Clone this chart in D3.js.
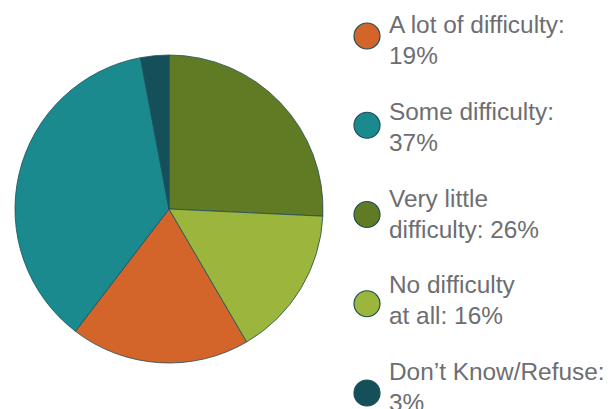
<!DOCTYPE html>
<html><head><meta charset="utf-8">
<script src="https://cdn.jsdelivr.net/npm/d3@7/dist/d3.min.js"></script>
<style>html,body{margin:0;padding:0;background:#fff;}svg{display:block;}</style>
</head><body>
<svg id="chart" width="611" height="409"></svg>
<script>
// Data (legend order)
const categories = ["A lot of difficulty", "Some difficulty", "Very little difficulty", "No difficulty at all", "Don\u2019t Know/Refuse"];
const values = [19, 37, 26, 16, 3];
const labelLine1 = ["A lot of difficulty:", "Some difficulty:", "Very little", "No difficulty", "Don\u2019t Know/Refuse:"];
const labelLine2 = ["19%", "37%", "difficulty: 26%", "at all: 16%", "3%"];
const colors = ["#d4652a", "#1a8a8e", "#617a24", "#9cb53c", "#15505a"];
// Clockwise order of slices starting at 12 o'clock
const pieOrder = ["Very little difficulty", "No difficulty at all", "A lot of difficulty", "Some difficulty", "Don\u2019t Know/Refuse"];

const data = categories.map((c, i) => ({cat: c, value: values[i], color: colors[i], l1: labelLine1[i], l2: labelLine2[i]}));

const svg = d3.select("#chart");
const cx = 169, cy = 209, r = 154;

const pie = d3.pie().value(d => d.value)
  .sort((a, b) => pieOrder.indexOf(a.cat) - pieOrder.indexOf(b.cat));
const arc = d3.arc().innerRadius(0).outerRadius(r);

svg.append("g").attr("transform", `translate(${cx},${cy})`)
  .selectAll("path").data(pie(data)).join("path")
  .attr("d", arc)
  .attr("fill", d => d.data.color)
  .attr("stroke", "#1d4f5a")
  .attr("stroke-width", 0.8);

// Legend
const circleY = d3.scaleLinear().domain([0, 4]).range([36, 393]);
const textY = d3.scaleLinear().domain([0, 4]).range([33, 380]);
const lg = svg.append("g");
data.forEach((d, i) => {
  lg.append("circle").attr("cx", 367).attr("cy", circleY(i)).attr("r", 13)
    .attr("fill", d.color).attr("stroke", "#1d4f5a").attr("stroke-width", 1.2);
  const t = lg.append("text").attr("x", 389).attr("y", textY(i))
    .attr("font-family", "Liberation Sans, Arial, sans-serif")
    .attr("font-size", 24.4).attr("fill", "#6d6e71");
  t.append("tspan").attr("x", 389).text(d.l1);
  t.append("tspan").attr("x", 389).attr("dy", 31).text(d.l2);
});
</script>
</body></html>
